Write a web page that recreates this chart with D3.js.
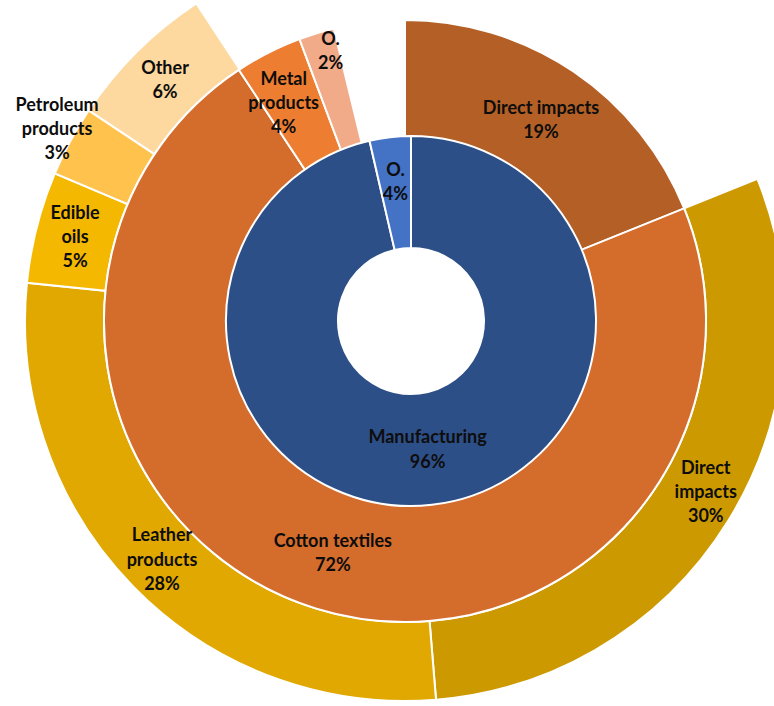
<!DOCTYPE html>
<html>
<head>
<meta charset="utf-8">
<script src="https://cdn.jsdelivr.net/npm/d3@7/dist/d3.min.js"></script>
<style>
  html, body { margin: 0; padding: 0; background: #ffffff; }
  svg { display: block; }
  text { font-family: Lato, "Open Sans", "DejaVu Sans", sans-serif; font-weight: 700; fill: #0d0d0d; }
</style>
</head>
<body>
<svg id="chart" width="774" height="706"></svg>
<script>
// ---- data (percent of total) ----
const innerNames   = ["Manufacturing", "O."];
const innerValues  = [96.4, 3.6];
const innerLines   = [["Manufacturing"], ["O."]];

const middleNames  = ["Direct impacts", "Cotton textiles", "Metal products", "O."];
const middleValues = [18.9, 71.8, 3.6, 1.9];
const middleLines  = [["Direct impacts"], ["Cotton textiles"], ["Metal", "products"], ["O."]];

const outerNames   = ["Direct impacts", "Leather products", "Edible oils", "Petroleum products", "Other"];
const outerValues  = [29.8, 27.9, 4.75, 3.0, 6.4];
const outerLines   = [["Direct", "impacts"], ["Leather", "products"], ["Edible", "oils"], ["Petroleum", "products"], ["Other"]];
// outer ring breaks down "Cotton textiles" (index 1 of middle ring)
const outerParentIndex = 1;

// ---- styles ----
const innerColors  = ["#2D4F87", "#4472C4"];
const middleColors = ["#B45F25", "#D46C2C", "#ED7D31", "#F2AB89"];
const outerColors  = ["#CC9900", "#E0A800", "#F5B800", "#FFC34D", "#FDD9A0"];

const svg = d3.select("#chart");
const angle = d3.scaleLinear().domain([0, 100]).range([0, 2 * Math.PI]);

function segments(values, startPct) {
  let acc = startPct;
  return values.map((v, i) => {
    const s = acc; acc += v;
    return { index: i, value: v, startAngle: angle(s), endAngle: angle(acc) };
  });
}

const innerCenter = [411, 321];
const outerCenter = [405, 321];

const rings = [
  { key: "outer",  center: outerCenter, r0: 301, r1: 380,
    segs: segments(outerValues, d3.sum(middleValues.slice(0, outerParentIndex))),
    colors: outerColors, lines: outerLines },
  { key: "middle", center: outerCenter, r0: 178, r1: 301,
    segs: segments(middleValues, 0),
    colors: middleColors, lines: middleLines },
  { key: "inner",  center: innerCenter, r0: 73, r1: 185,
    segs: segments(innerValues, 0),
    colors: innerColors, lines: innerLines }
];

// manual label nudges (as in the original, where labels were moved)
const labelNudge = {
  "outer-0": [11, -8],
  "outer-3": [-48, -31],
  "middle-2": [-11, -2],
  "middle-3": [-3, -38],
  "inner-0": [2, 0],
  "inner-1": [-1, -11]
};
const labelRadius = { outer: 340.5, middle: 243, inner: 129 };

rings.forEach(ring => {
  const g = svg.append("g").attr("transform", `translate(${ring.center[0]},${ring.center[1]})`);
  const arc = d3.arc().innerRadius(ring.r0).outerRadius(ring.r1);
  g.selectAll("path").data(ring.segs).join("path")
    .attr("d", arc)
    .attr("fill", d => ring.colors[d.index])
    .attr("stroke", "#ffffff")
    .attr("stroke-width", 2)
    .attr("stroke-linejoin", "miter");
});

// labels on top
rings.forEach(ring => {
  const g = svg.append("g").attr("transform", `translate(${ring.center[0]},${ring.center[1]})`);
  const lr = labelRadius[ring.key];
  const lblArc = d3.arc().innerRadius(lr).outerRadius(lr);
  ring.segs.forEach(d => {
    const c = lblArc.centroid(d);
    const nudge = labelNudge[ring.key + "-" + d.index] || [0, 0];
    const lines = ring.lines[d.index].concat([Math.round(d.value) + "%"]);
    const n = lines.length;
    const lh = 24.3;
    const t = g.append("text")
      .attr("text-anchor", "middle")
      .attr("font-size", 18);
    lines.forEach((ln, i) => {
      t.append("tspan")
        .attr("x", c[0] + nudge[0])
        .attr("y", c[1] + nudge[1] - (n - 1) * lh / 2 + i * lh)
        .attr("dy", "0.35em")
        .text(ln);
    });
  });
});
</script>
</body>
</html>
